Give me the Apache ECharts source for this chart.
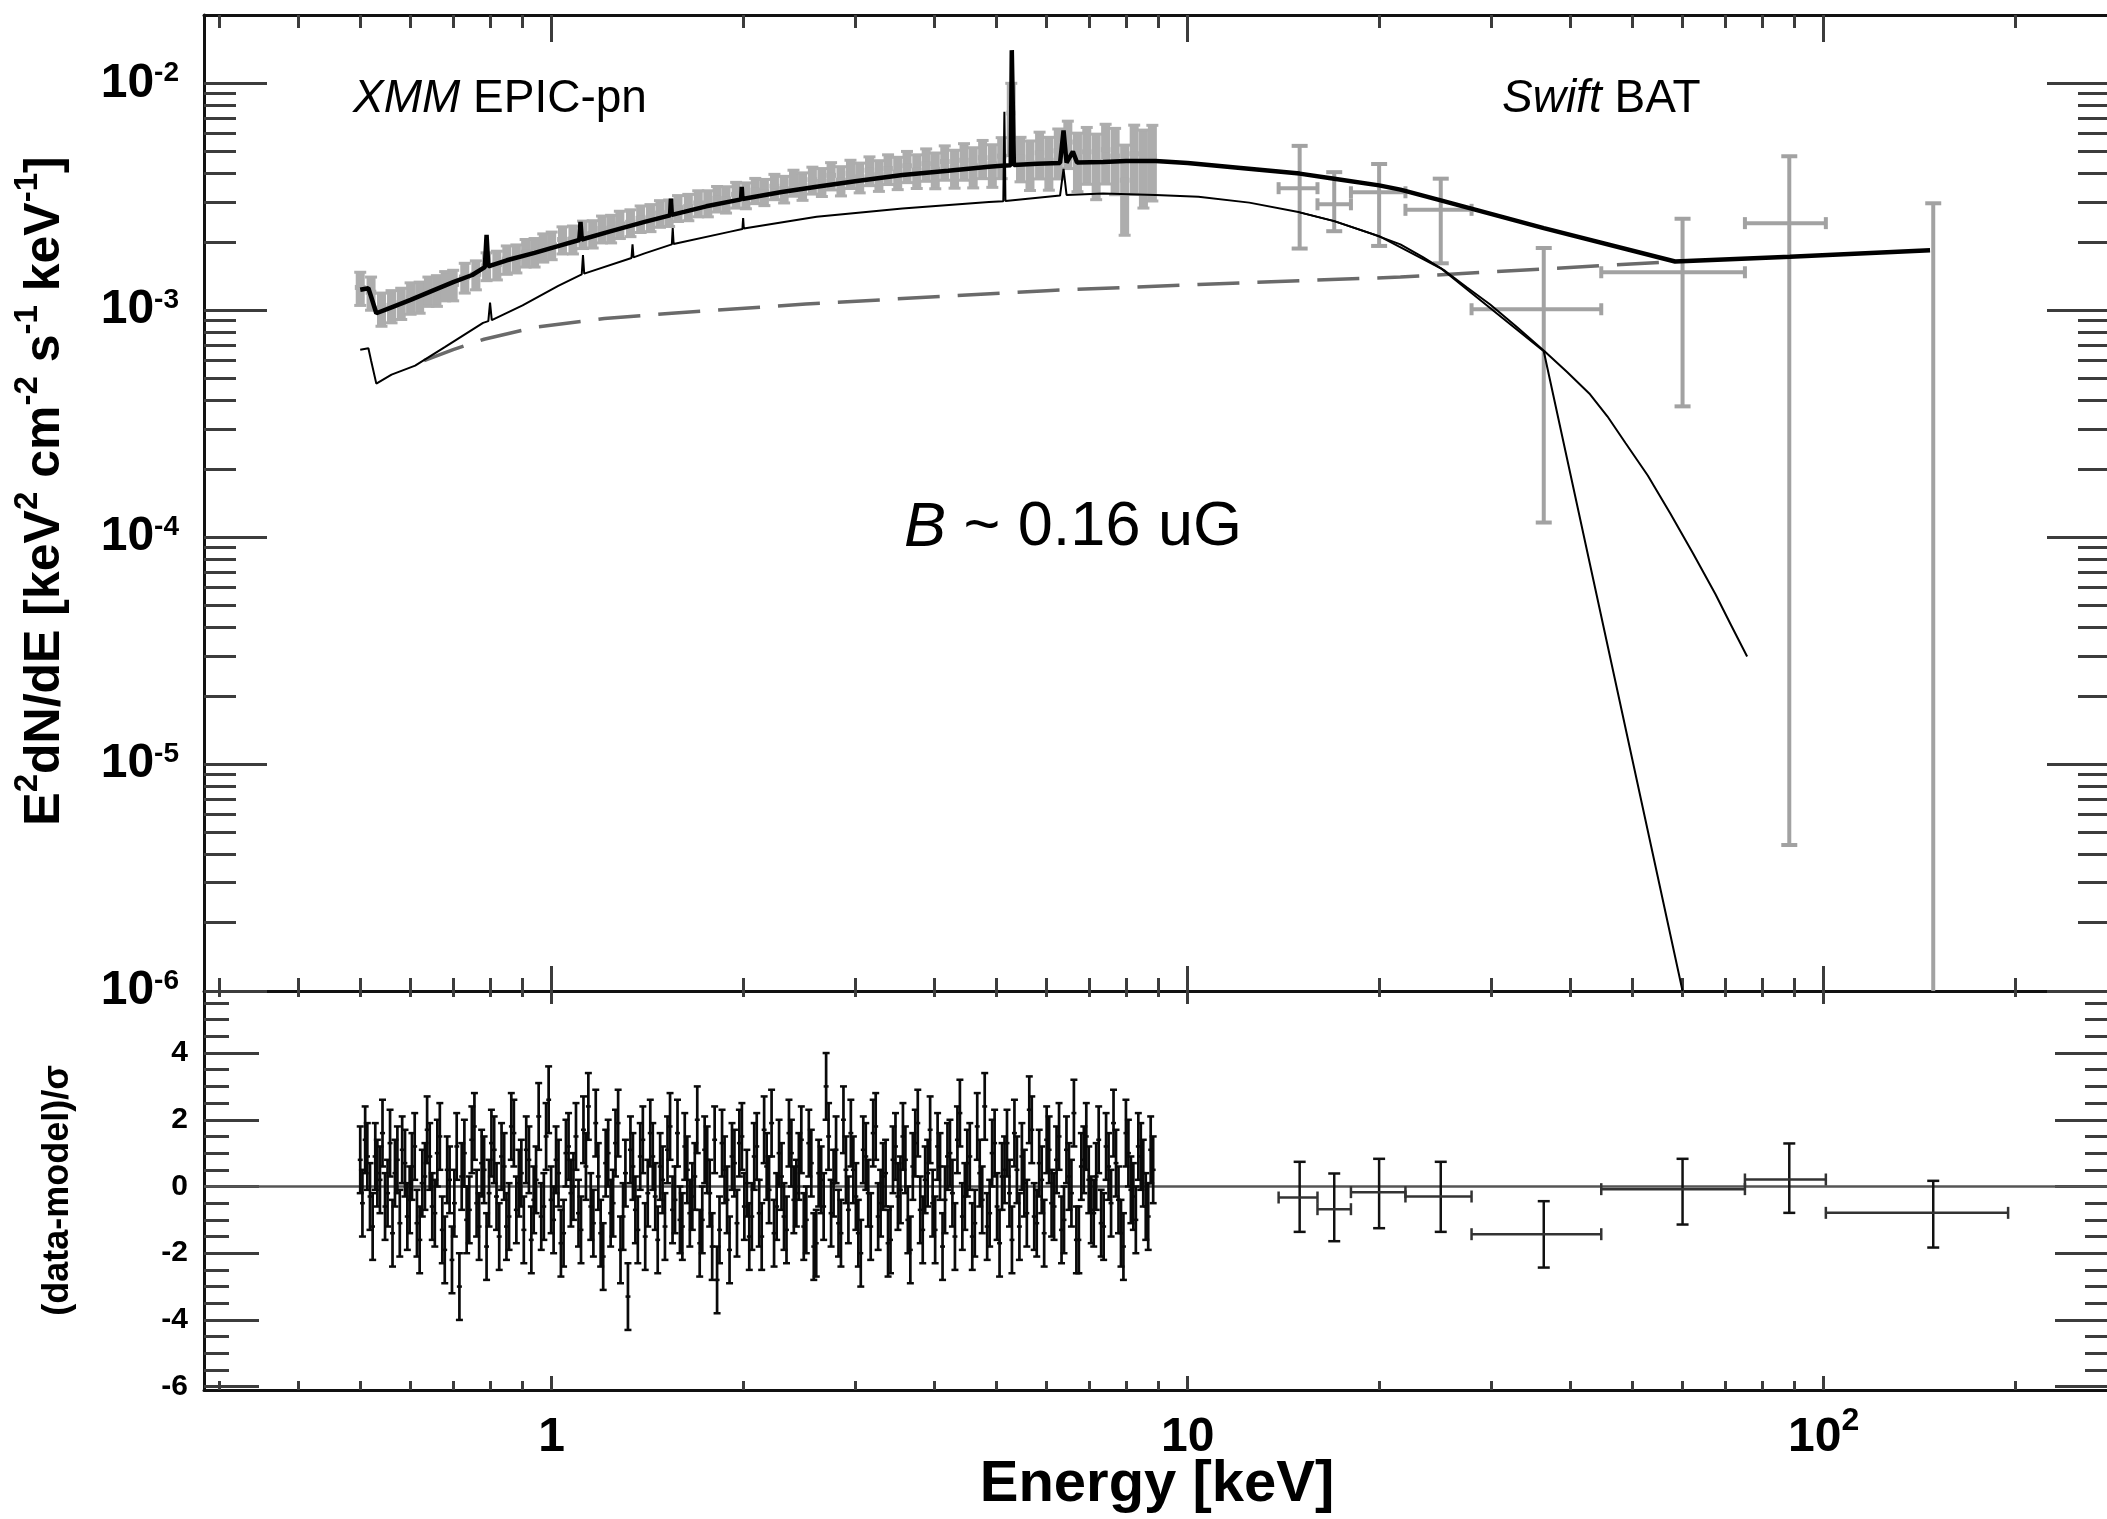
<!DOCTYPE html>
<html><head><meta charset="utf-8">
<script src="https://cdn.jsdelivr.net/npm/echarts@6.0.0/dist/echarts.min.js"></script>
<style>html,body{margin:0;padding:0;background:#fff}#c{width:2107px;height:1519px}</style>
</head><body><div id="c"></div>
<script>
// ================= DATA =================
// XMM EPIC-pn spectrum (energy keV, E^2 dN/dE in 1e-3 keV^2 cm^-2 s^-1 keV^-1, 1-sigma error)
const xmmEnergy = [0.50,0.52,0.54,0.56,0.58,0.60,0.62,0.64,0.66,0.68,0.70,
  0.73,0.76,0.79,0.82,0.85,0.88,0.91,0.94,0.97,
  1.00,1.04,1.08,1.12,1.16,1.20,1.24,1.28,
  1.33,1.38,1.43,1.48,1.53,1.58,
  1.64,1.70,1.76,1.82,1.88,
  1.95,2.02,2.09,2.16,
  2.24,2.32,2.40,2.48,
  2.57,2.66,2.75,
  2.85,2.95,3.05,
  3.16,3.27,3.38,
  3.50,3.62,3.75,3.88,
  4.01,4.15,4.30,4.45,4.60,4.76,4.93,
  5.10,5.28,5.46,5.65,5.85,
  6.05,6.26,6.48,6.71,6.94,
  7.18,7.43,7.69,7.96,
  8.24,8.52,8.80];
const xmmFluxMilli = [1.26,1.20,1.02,1.05,1.08,1.14,1.15,1.22,1.23,1.29,1.30,
  1.40,1.44,1.57,1.59,1.68,1.70,1.80,1.81,1.90,
  1.94,2.05,2.06,2.17,2.18,2.29,2.30,2.40,
  2.44,2.54,2.57,2.68,2.70,2.83,
  2.86,2.97,2.97,3.11,3.09,
  3.24,3.22,3.38,3.33,
  3.52,3.43,3.66,3.54,
  3.76,3.69,3.93,
  3.74,4.01,3.87,
  4.14,3.95,4.21,
  4.06,4.33,4.14,4.42,
  4.18,4.52,4.26,4.58,4.33,4.70,4.42,
  4.78,7.40,4.73,4.47,4.94,
  4.58,5.04,5.51,4.68,4.99,
  4.52,5.10,4.78,3.74,
  4.89,4.52,4.78];
const xmmErrMilli = [0.21,0.20,0.17,0.17,0.17,0.18,0.18,0.18,0.19,0.19,0.20,
  0.21,0.21,0.22,0.23,0.24,0.24,0.25,0.26,0.27,
  0.27,0.28,0.29,0.30,0.30,0.31,0.32,0.33,
  0.33,0.34,0.35,0.36,0.36,0.37,
  0.38,0.39,0.39,0.40,0.41,
  0.42,0.42,0.43,0.44,
  0.45,0.46,0.48,0.49,
  0.51,0.52,0.54,
  0.55,0.57,0.58,
  0.60,0.61,0.63,
  0.66,0.68,0.70,0.72,
  0.75,0.78,0.81,0.84,0.87,0.90,0.94,
  0.98,2.60,1.05,1.10,1.15,
  1.20,1.25,1.30,1.35,1.40,
  1.45,1.50,1.55,1.60,
  1.65,1.70,1.75];

// Swift BAT spectrum
const batEnergy = [15.0, 17.0, 20.0, 25.0, 36.3, 60.0, 88.3, 148.7];
const batElo    = [13.9, 16.0, 18.06, 22.0, 27.95, 44.7, 75.2, 100.8];
const batEhi    = [16.0, 18.06, 22.0, 27.95, 44.7, 75.2, 100.8, 195.0];
const batFlux   = [3.45e-3, 2.93e-3, 3.31e-3, 2.77e-3, 1.01e-3, 1.47e-3, 2.42e-3, -2.4e-3];
const batFluxLo = [1.87e-3, 2.23e-3, 1.92e-3, 1.61e-3, 1.16e-4, 3.77e-4, 4.4e-6, -7.7e-3];
const batFluxHi = [5.30e-3, 4.06e-3, 4.41e-3, 3.80e-3, 1.88e-3, 2.53e-3, 4.77e-3, 2.96e-3];
const batRes    = [-0.33, -0.68, -0.17, -0.30, -1.43, -0.08, 0.21, -0.79];
const batResLo  = [-1.36, -1.64, -1.25, -1.36, -2.43, -1.14, -0.79, -1.83];
const batResHi  = [0.74, 0.39, 0.83, 0.74, -0.44, 0.83, 1.29, 0.17];

// Model curves [E keV, E^2 dN/dE]
const totalModel = [[0.50,1.23e-3],[0.515,1.25e-3],[0.52,1.15e-3],[0.53,0.97e-3],[0.56,1.03e-3],[0.60,1.11e-3],
  [0.65,1.22e-3],[0.70,1.33e-3],[0.75,1.43e-3],[0.785,1.55e-3],[0.79,2.15e-3],[0.795,1.56e-3],[0.85,1.66e-3],
  [0.94,1.79e-3],[1.02,1.91e-3],[1.105,2.04e-3],[1.11,2.45e-3],[1.115,2.05e-3],[1.24,2.23e-3],[1.40,2.45e-3],
  [1.535,2.62e-3],[1.54,3.1e-3],[1.545,2.63e-3],[1.75,2.87e-3],[1.985,3.08e-3],[1.99,3.5e-3],[1.995,3.09e-3],
  [2.3,3.32e-3],[2.61,3.5e-3],[3.0,3.7e-3],[3.56,3.94e-3],[4.2,4.12e-3],[4.87,4.29e-3],[5.1,4.33e-3],
  [5.27,4.35e-3],[5.29,1.4e-2],[5.31,1.4e-2],[5.33,4.36e-3],[5.8,4.42e-3],[6.3,4.46e-3],[6.38,6.2e-3],
  [6.45,4.47e-3],[6.6,5.0e-3],[6.7,4.48e-3],[7.36,4.5e-3],[8.0,4.55e-3],[8.9,4.55e-3],[10.0,4.45e-3],
  [12.0,4.25e-3],[15.0,4.0e-3],[17.0,3.8e-3],[20.0,3.55e-3],[21.6,3.4e-3],[25.0,3.05e-3],[36.3,2.3e-3],
  [58.4,1.64e-3],[88.5,1.72e-3],[147,1.84e-3]];
const thermalModel = [[0.50,6.7e-4],[0.515,6.8e-4],[0.52,6.0e-4],[0.53,4.75e-4],[0.56,5.2e-4],[0.61,5.7e-4],
  [0.68,6.9e-4],[0.78,8.8e-4],[0.795,8.95e-4],[0.80,1.08e-3],[0.805,9.05e-4],[0.9,1.05e-3],[1.024,1.28e-3],
  [1.115,1.44e-3],[1.12,1.75e-3],[1.125,1.45e-3],[1.335,1.7e-3],[1.34,1.95e-3],[1.345,1.71e-3],[1.40,1.78e-3],
  [1.545,1.95e-3],[1.55,2.3e-3],[1.555,1.96e-3],[1.91,2.22e-3],[1.995,2.28e-3],[2.0,2.55e-3],[2.005,2.29e-3],
  [2.61,2.58e-3],[3.56,2.81e-3],[4.87,3.0e-3],[5.13,3.02e-3],[5.15,7.5e-3],[5.17,3.03e-3],[6.3,3.2e-3],
  [6.38,4.2e-3],[6.45,3.22e-3],[7.36,3.27e-3],[8.9,3.22e-3],[10.4,3.16e-3],[12.5,2.98e-3],[15.0,2.7e-3],
  [17.0,2.47e-3],[19.5,2.17e-3],[21.6,1.95e-3],[23.4,1.72e-3],[25.4,1.49e-3],[27.5,1.26e-3],[29.9,1.06e-3],
  [33.0,8.4e-4],[36.4,6.6e-4],[39.5,5.34e-4],[42.8,4.3e-4],[45.7,3.41e-4],[48.8,2.6e-4],[52.9,1.87e-4],
  [57.4,1.27e-4],[62.3,8.5e-5],[67.6,5.6e-5],[71.5,4.1e-5],[75.8,2.98e-5]];
const thermalBatModel = [[15.0,2.7e-3],[17.0,2.47e-3],[20.0,2.12e-3],[25.0,1.53e-3],[36.3,6.6e-4],[60.0,1.0e-6]];
const powerLawModel = [[0.63,6.0e-4],[0.70,6.7e-4],[0.783,7.45e-4],[0.95,8.45e-4],[1.21,9.2e-4],[1.545,9.7e-4],
  [2.51,1.065e-3],[4.09,1.15e-3],[6.0,1.22e-3],[10.4,1.3e-3],[21.6,1.4e-3],[58.4,1.64e-3]];

// Residuals (data-model)/sigma for XMM (two interleaved channel sets)
const resEnergyA = [0.500,0.509,0.518,0.528,0.537,0.547,0.557,0.567,0.577,0.588,
  0.598,0.609,0.620,0.632,0.643,0.655,0.667,0.679,0.691,0.703,
  0.716,0.729,0.742,0.756,0.769,0.783,0.797,0.812,0.827,0.842,
  0.857,0.872,0.888,0.904,0.921,0.937,0.954,0.972,0.989,1.007,
  1.025,1.044,1.063,1.082,1.102,1.122,1.142,1.163,1.184,1.205,
  1.227,1.249,1.272,1.295,1.318,1.342,1.366,1.391,1.416,1.442,
  1.468,1.494,1.521,1.549,1.577,1.605,1.634,1.664,1.694,1.725,
  1.756,1.788,1.820,1.853,1.887,1.921,1.956,1.991,2.027,2.064,
  2.101,2.139,2.178,2.217,2.258,2.298,2.340,2.382,2.425,2.469,
  2.514,2.560,2.606,2.653,2.701,2.750,2.800,2.850,2.902,2.954,
  3.008,3.062,3.118,3.174,3.232,3.290,3.350,3.410,3.472,3.535,
  3.599,3.664,3.730,3.798,3.866,3.936,4.008,4.080,4.154,4.229,
  4.306,4.384,4.463,4.544,4.627,4.710,4.796,4.883,4.971,5.061,
  5.153,5.246,5.341,5.438,5.536,5.636,5.738,5.842,5.948,6.056,
  6.165,6.277,6.391,6.506,6.624,6.744,6.866,6.990,7.117,7.246,
  7.377,7.510,7.646,7.785,7.925,8.069,8.215,8.364,8.515,8.669,8.826];
const resValueA = [0.8,1.4,-0.3,0.9,0.2,-0.6,1.3,0.4,-1.1,0.7,
  -0.4,1.2,-1.6,0.3,0.9,-0.8,1.5,-1.9,0.2,-0.5,
  -3.0,1.0,-0.7,1.8,-1.2,0.5,-0.2,1.1,-1.5,0.6,
  -0.9,1.6,0.1,-1.3,0.8,-0.4,2.1,-0.6,2.6,-1.0,
  0.4,-1.4,1.2,0.0,-0.8,1.7,2.4,-1.1,0.3,-2.1,
  1.0,-0.5,1.9,-0.9,-3.3,0.6,-1.3,1.4,-0.2,0.9,
  -1.6,0.2,1.1,-0.7,1.6,-1.2,0.5,-0.3,2.0,-1.0,
  0.8,-1.8,-2.8,1.3,-0.4,0.9,-1.1,1.5,0.1,-0.9,
  1.2,-1.5,0.6,1.9,-0.6,0.3,-1.3,1.0,-0.2,1.4,
  -1.0,0.7,-1.7,0.2,3.0,-0.8,1.1,-1.4,0.5,1.6,
  -0.3,-2.0,0.9,-1.2,1.8,-0.5,0.4,-1.6,1.2,-0.1,
  0.8,-1.9,1.3,-0.7,0.2,1.7,-1.3,0.6,-0.4,1.0,
  -1.5,2.2,-0.3,0.9,-1.1,0.4,2.4,-0.8,1.3,-1.7,
  0.5,-0.2,1.6,-1.2,0.1,2.3,-0.9,0.7,-1.4,1.1,
  -0.6,1.5,-1.0,0.3,2.2,-1.6,0.8,0.2,-0.8,1.4,
  -1.2,0.6,1.9,-0.4,-1.8,1.0,-0.3,1.2,0.4,-0.9,0.5];
const resEnergyB = [0.504,0.513,0.523,0.532,0.542,0.552,0.562,0.572,0.582,0.593,
  0.603,0.614,0.626,0.637,0.649,0.661,0.673,0.685,0.697,0.709,
  0.722,0.735,0.749,0.762,0.776,0.790,0.804,0.819,0.834,0.849,
  0.864,0.880,0.896,0.912,0.929,0.945,0.963,0.980,0.998,1.016,
  1.034,1.053,1.072,1.092,1.112,1.132,1.152,1.173,1.194,1.216,
  1.238,1.260,1.283,1.306,1.330,1.354,1.378,1.403,1.429,1.455,
  1.481,1.507,1.535,1.563,1.591,1.619,1.649,1.679,1.709,1.740,
  1.772,1.804,1.836,1.870,1.904,1.938,1.973,2.009,2.045,2.082,
  2.120,2.158,2.197,2.237,2.278,2.319,2.361,2.403,2.447,2.491,
  2.537,2.583,2.629,2.677,2.725,2.775,2.825,2.876,2.928,2.981,
  3.035,3.090,3.146,3.203,3.261,3.320,3.380,3.441,3.503,3.567,
  3.631,3.697,3.764,3.832,3.901,3.972,4.044,4.117,4.191,4.267,
  4.345,4.423,4.503,4.585,4.668,4.753,4.839,4.927,5.016,5.107,
  5.199,5.293,5.389,5.487,5.586,5.687,5.790,5.895,6.002,6.110,
  6.221,6.334,6.448,6.565,6.684,6.805,6.928,7.053,7.181,7.311,
  7.443,7.578,7.715,7.855,7.997,8.142,8.289,8.439,8.592,8.747];
const resValueB = [-0.5,0.9,-1.2,0.4,1.6,-0.2,-1.4,0.8,1.1,-0.9,
  0.6,-1.1,0.1,1.7,-0.6,1.0,-1.3,0.5,-2.2,1.2,
  0.3,-1.0,1.4,-0.5,0.7,-1.8,1.3,-0.3,0.9,-1.2,
  1.8,-0.7,0.4,1.1,-1.6,0.2,-0.9,1.5,-0.4,0.8,
  -1.7,1.0,-0.2,1.5,-1.3,0.6,-0.6,1.9,-1.4,0.7,
  -0.8,1.3,-1.9,0.4,1.1,-0.7,0.9,-1.5,1.6,-0.3,
  0.6,-1.2,1.8,-0.4,-1.0,1.2,-0.8,0.3,-1.7,1.1,
  -0.2,1.4,-1.3,0.5,-1.9,0.7,1.3,-0.6,-1.5,0.9,
  -0.8,1.7,-0.1,-1.4,1.0,-0.9,1.6,-0.4,0.6,-1.2,
  1.3,-1.8,0.4,-0.6,1.5,0.1,-1.1,2.0,-0.7,0.5,
  -1.4,1.1,-0.2,1.6,-0.9,0.3,-1.7,0.8,-0.3,1.5,
  -1.0,0.6,1.9,-1.3,0.4,-0.5,1.2,-1.8,0.9,-0.2,
  1.4,-0.9,0.7,-1.5,1.8,-0.4,-1.2,1.0,-0.6,0.3,
  1.3,-1.6,0.5,0.9,-0.8,1.7,-1.1,0.2,1.4,-0.5,
  0.8,-1.3,1.1,-0.2,-1.6,0.6,1.5,-0.7,0.3,-1.1,
  1.2,-0.5,0.7,-1.4,1.6,-0.1,-1.0,0.9,-0.6,1.1];
const resSigma = 1.0;

// Axis ticks / labels
const X_MIN = 0.284, X_MAX = 282;
const Y_MIN = 1e-6, Y_MAX = 0.02;
const R_MIN = -6.1, R_MAX = 5.86;
const xMajorTicks = [1, 10, 100];
const xMajorLabels = ['1', '10', '10^2'];
const xDecades = [0.1, 1, 10, 100];
const yMajorTicks = [1e-6, 1e-5, 1e-4, 1e-3, 1e-2];
const yMajorLabels = ['10^-6', '10^-5', '10^-4', '10^-3', '10^-2'];
const logMantissas = [2, 3, 4, 5, 6, 7, 8, 9];
const rMajorTicks = [-6, -4, -2, 0, 2, 4];
const rMajorLabels = ['-6', '-4', '-2', '0', '2', '4'];
const rMinorStep = 0.5;

// ================= BUILD =================
const FF = "'Liberation Sans', Arial, Helvetica, sans-serif";
const TICK_C = '#3c3c3c';
const FRAME_C = '#111';

const xMinorTicks = [];
xDecades.forEach(d => logMantissas.forEach(m => { const v = d * m; if (v > X_MIN && v < X_MAX) xMinorTicks.push(v); }));
const yMinorTicks = [];
yMajorTicks.forEach(d => logMantissas.forEach(m => { const v = d * m; if (v > Y_MIN && v < Y_MAX * 0.999) yMinorTicks.push(v); }));
const rMinorTicks = [];
for (let v = -6; v < R_MAX; v += rMinorStep) rMinorTicks.push(Math.round(v * 10) / 10);

function supLabel(s, bTag, sTag) {
  const p = s.split('^');
  return p.length > 1 ? '{' + bTag + '|' + p[0] + '}{' + sTag + '|' + p[1] + '}' : '{' + bTag + '|' + p[0] + '}';
}
function findLog(list, v) {
  return list.findIndex(t => Math.abs(Math.log10(t) - Math.log10(v)) < 1e-4);
}

// bin edges as geometric midpoints between neighbouring channels
function edges(E) {
  return E.map((e, i) => {
    const lo = i > 0 ? Math.sqrt(E[i - 1] * e) : e * e / Math.sqrt(E[i + 1] * e);
    const hi = i < E.length - 1 ? Math.sqrt(E[i + 1] * e) : e * e / Math.sqrt(E[i - 1] * e);
    return [lo, hi];
  });
}
const xmmEdges = edges(xmmEnergy);
const xmmData = xmmEnergy.map((e, i) => {
  const v = xmmFluxMilli[i] * 1e-3, er = xmmErrMilli[i] * 1e-3;
  return [e, v, xmmEdges[i][0], xmmEdges[i][1], v - er, v + er];
});
const batData = batEnergy.map((e, i) => [e, batFlux[i], batElo[i], batEhi[i], batFluxLo[i], batFluxHi[i]]);
function resRows(E, R) {
  const ed = edges(E);
  return E.map((e, i) => [e, R[i], ed[i][0], ed[i][1], R[i] - resSigma, R[i] + resSigma]);
}
const resData = resRows(resEnergyA, resValueA).concat(resRows(resEnergyB, resValueB));
const batResData = batEnergy.map((e, i) => [e, batRes[i], batElo[i], batEhi[i], batResLo[i], batResHi[i]]);

function errRender(opt) {
  return function (params, api) {
    const f = opt.log ? (v => (v > 0 ? v : 1e-12)) : (v => v);
    const e = api.value(0), v = api.value(1), elo = api.value(2), ehi = api.value(3), vlo = api.value(4), vhi = api.value(5);
    const c = api.coord([e, f(v)]);
    const t = api.coord([e, f(vhi)]);
    const b = api.coord([e, f(vlo)]);
    const l = api.coord([elo, f(v)]);
    const r = api.coord([ehi, f(v)]);
    const st = { stroke: opt.color, lineWidth: opt.lw, lineCap: 'butt' };
    const hst = { stroke: opt.hcolor || opt.color, lineWidth: opt.hlw || opt.lw, lineCap: 'butt' };
    const cst = { stroke: opt.color, lineWidth: opt.clw || opt.lw, lineCap: 'butt' };
    const ch = [
      { type: 'line', shape: { x1: c[0], y1: t[1], x2: c[0], y2: b[1] }, style: st },
      { type: 'line', shape: { x1: l[0], y1: c[1], x2: r[0], y2: c[1] }, style: hst }
    ];
    if (opt.vcap) {
      const w = opt.vcap / 2;
      ch.push({ type: 'line', shape: { x1: c[0] - w, y1: t[1], x2: c[0] + w, y2: t[1] }, style: cst });
      ch.push({ type: 'line', shape: { x1: c[0] - w, y1: b[1], x2: c[0] + w, y2: b[1] }, style: cst });
    }
    if (opt.hcap) {
      const w = opt.hcap / 2;
      ch.push({ type: 'line', shape: { x1: l[0], y1: c[1] - w, x2: l[0], y2: c[1] + w }, style: hst });
      ch.push({ type: 'line', shape: { x1: r[0], y1: c[1] - w, x2: r[0], y2: c[1] + w }, style: hst });
    }
    return { type: 'group', children: ch };
  };
}

function logX(grid, pos, len, ticks, extra) {
  return Object.assign({
    type: 'log', logBase: 10, gridIndex: grid, position: pos, min: X_MIN, max: X_MAX,
    axisLine: { show: false, onZero: false },
    axisTick: { show: true, inside: true, length: len, customValues: ticks, lineStyle: { color: TICK_C, width: 3 } },
    axisLabel: { show: false }, splitLine: { show: false }, minorTick: { show: false }, minorSplitLine: { show: false }
  }, extra || {});
}
function yAx(grid, type, pos, len, ticks, extra) {
  const base = {
    type: type, gridIndex: grid, position: pos,
    axisLine: { show: false, onZero: false },
    axisTick: { show: true, inside: true, length: len, customValues: ticks, lineStyle: { color: TICK_C, width: 3 } },
    axisLabel: { show: false }, splitLine: { show: false }, minorTick: { show: false }, minorSplitLine: { show: false }
  };
  if (type === 'log') { base.logBase = 10; base.min = Y_MIN; base.max = Y_MAX; }
  else { base.min = R_MIN; base.max = R_MAX; }
  return Object.assign(base, extra || {});
}
const frameLine = { show: true, onZero: false, lineStyle: { color: FRAME_C, width: 3 } };

const option = {
  animation: false,
  backgroundColor: '#fff',
  textStyle: { fontFamily: FF },
  grid: [
    { left: 204, top: 15, width: 1906, height: 976, outerBoundsMode: 'none', containLabel: false },
    { left: 204, top: 991, width: 1906, height: 399, outerBoundsMode: 'none', containLabel: false }
  ],
  xAxis: [
    logX(0, 'bottom', 13, xMinorTicks, { axisLine: frameLine }),
    logX(0, 'bottom', 25, xMajorTicks),
    logX(0, 'top', 13, xMinorTicks, { axisLine: frameLine }),
    logX(0, 'top', 27, xMajorTicks),
    logX(1, 'bottom', 9, xMinorTicks, { axisLine: frameLine }),
    logX(1, 'bottom', 14, xMajorTicks, {
      axisLabel: {
        show: true, customValues: xMajorTicks, margin: 15,
        formatter: v => { const i = findLog(xMajorTicks, v); return i < 0 ? '' : supLabel(xMajorLabels[i], 'b', 's'); },
        rich: {
          b: { fontSize: 48, fontWeight: 'bold', fontFamily: FF, color: '#000', lineHeight: 66 },
          s: { fontSize: 32, fontWeight: 'bold', fontFamily: FF, color: '#000', lineHeight: 32, verticalAlign: 'top' }
        }
      },
      name: 'Energy [keV]', nameLocation: 'middle', nameGap: 66, nameMoveOverlap: false,
      nameTextStyle: { fontSize: 58, fontWeight: 'bold', fontFamily: FF, color: '#000' }
    }),
    logX(1, 'top', 6, xMinorTicks),
    logX(1, 'top', 13, xMajorTicks)
  ],
  yAxis: [
    yAx(0, 'log', 'left', 32, yMinorTicks, { axisLine: frameLine }),
    yAx(0, 'log', 'left', 63, yMajorTicks, {
      axisLabel: {
        show: true, customValues: yMajorTicks, margin: 25,
        formatter: v => { const i = findLog(yMajorTicks, v); return i < 0 ? '' : supLabel(yMajorLabels[i], 'b', 's'); },
        rich: {
          b: { fontSize: 48, fontWeight: 'bold', fontFamily: FF, color: '#000', lineHeight: 48 },
          s: { fontSize: 28, fontWeight: 'bold', fontFamily: FF, color: '#000', lineHeight: 28, verticalAlign: 'top' }
        }
      },
      name: '{t|E}{s|2}{t|dN/dE [keV}{s|2}{t| cm}{s|-2}{t| s}{s|-1}{t| keV}{s|-1}{t|]}',
      nameLocation: 'middle', nameRotate: 90, nameGap: 125, nameMoveOverlap: false,
      nameTextStyle: {
        padding: [0, 0, 0, 24],
        rich: {
          t: { fontSize: 50, fontWeight: 'bold', fontFamily: FF, color: '#000', lineHeight: 68 },
          s: { fontSize: 33, fontWeight: 'bold', fontFamily: FF, color: '#000', lineHeight: 33, verticalAlign: 'top' }
        }
      }
    }),
    yAx(0, 'log', 'right', 32, yMinorTicks, { axisLine: frameLine }),
    yAx(0, 'log', 'right', 63, yMajorTicks),
    yAx(1, 'value', 'left', 25, rMinorTicks, { axisLine: frameLine }),
    yAx(1, 'value', 'left', 55, rMajorTicks, {
      axisLabel: {
        show: true, customValues: rMajorTicks, margin: 16,
        formatter: v => { const i = rMajorTicks.indexOf(Math.round(v)); return i < 0 ? '' : rMajorLabels[i]; },
        fontSize: 30, fontWeight: 'bold', fontFamily: FF, color: '#000'
      },
      name: '(data-model)/σ', nameLocation: 'middle', nameRotate: 90, nameGap: 128, nameMoveOverlap: false,
      nameTextStyle: { fontSize: 36, fontWeight: 'bold', fontFamily: FF, color: '#000' }
    }),
    yAx(1, 'value', 'right', 25, rMinorTicks, { axisLine: frameLine }),
    yAx(1, 'value', 'right', 55, rMajorTicks)
  ],
  series: [
    { type: 'custom', name: 'XMM data', xAxisIndex: 0, yAxisIndex: 0, clip: true, z: 2, silent: true,
      renderItem: errRender({ log: true, color: '#adadad', lw: 9, hlw: 5, clw: 3, vcap: 12 }),
      encode: { x: 0, y: 1 }, data: xmmData },
    { type: 'custom', name: 'BAT data', xAxisIndex: 0, yAxisIndex: 0, clip: true, z: 2, silent: true,
      renderItem: errRender({ log: true, color: '#a2a2a2', lw: 4, vcap: 16, hcap: 12 }),
      encode: { x: 0, y: 1 }, data: batData },
    { type: 'line', name: 'power law', xAxisIndex: 0, yAxisIndex: 0, z: 3, silent: true, showSymbol: false, symbol: 'none',
      clip: true, lineStyle: { color: '#6a6a6a', width: 3.5, type: [42, 18] }, data: powerLawModel },
    { type: 'line', name: 'thermal', xAxisIndex: 0, yAxisIndex: 0, z: 4, silent: true, showSymbol: false, symbol: 'none',
      clip: true, lineStyle: { color: '#000', width: 2 }, data: thermalModel },
    { type: 'line', name: 'thermal BAT', xAxisIndex: 0, yAxisIndex: 0, z: 4, silent: true, showSymbol: false, symbol: 'none',
      clip: true, lineStyle: { color: '#000', width: 2 }, data: thermalBatModel },
    { type: 'line', name: 'total', xAxisIndex: 0, yAxisIndex: 0, z: 5, silent: true, showSymbol: false, symbol: 'none',
      clip: true, lineStyle: { color: '#000', width: 4.5 }, data: totalModel },
    { type: 'custom', name: 'XMM residuals', xAxisIndex: 4, yAxisIndex: 4, clip: true, z: 3, silent: true,
      renderItem: errRender({ log: false, color: '#0a0a0a', lw: 2.7, hlw: 2.5, clw: 2.5, vcap: 7 }),
      encode: { x: 0, y: 1 }, data: resData,
      markLine: { silent: true, symbol: 'none', label: { show: false }, z: 1,
        lineStyle: { color: '#555', width: 2.5, type: 'solid' }, data: [{ yAxis: 0 }] } },
    { type: 'custom', name: 'BAT residuals', xAxisIndex: 4, yAxisIndex: 4, clip: true, z: 3, silent: true,
      renderItem: errRender({ log: false, color: '#111', lw: 2.5, hcolor: '#333', vcap: 12, hcap: 12 }),
      encode: { x: 0, y: 1 }, data: batResData }
  ],
  graphic: [
    { type: 'text', x: 353, y: 99, silent: true,
      style: { text: '{i|XMM} EPIC-pn', fontSize: 46, fontFamily: FF, fill: '#000', verticalAlign: 'middle',
        rich: { i: { fontStyle: 'italic', fontSize: 46, fontFamily: FF, fill: '#000' } } } },
    { type: 'text', x: 1502, y: 99, silent: true,
      style: { text: '{i|Swift} BAT', fontSize: 46, fontFamily: FF, fill: '#000', verticalAlign: 'middle',
        rich: { i: { fontStyle: 'italic', fontSize: 46, fontFamily: FF, fill: '#000' } } } },
    { type: 'text', x: 904, y: 528, silent: true,
      style: { text: '{i|B} ~ 0.16 uG', fontSize: 63, fontFamily: FF, fill: '#000', verticalAlign: 'middle',
        rich: { i: { fontStyle: 'italic', fontSize: 63, fontFamily: FF, fill: '#000' } } } }
  ]
};

const chart = echarts.init(document.getElementById('c'), null, { renderer: 'canvas', width: 2107, height: 1519 });
chart.setOption(option);
</script>
</body></html>
